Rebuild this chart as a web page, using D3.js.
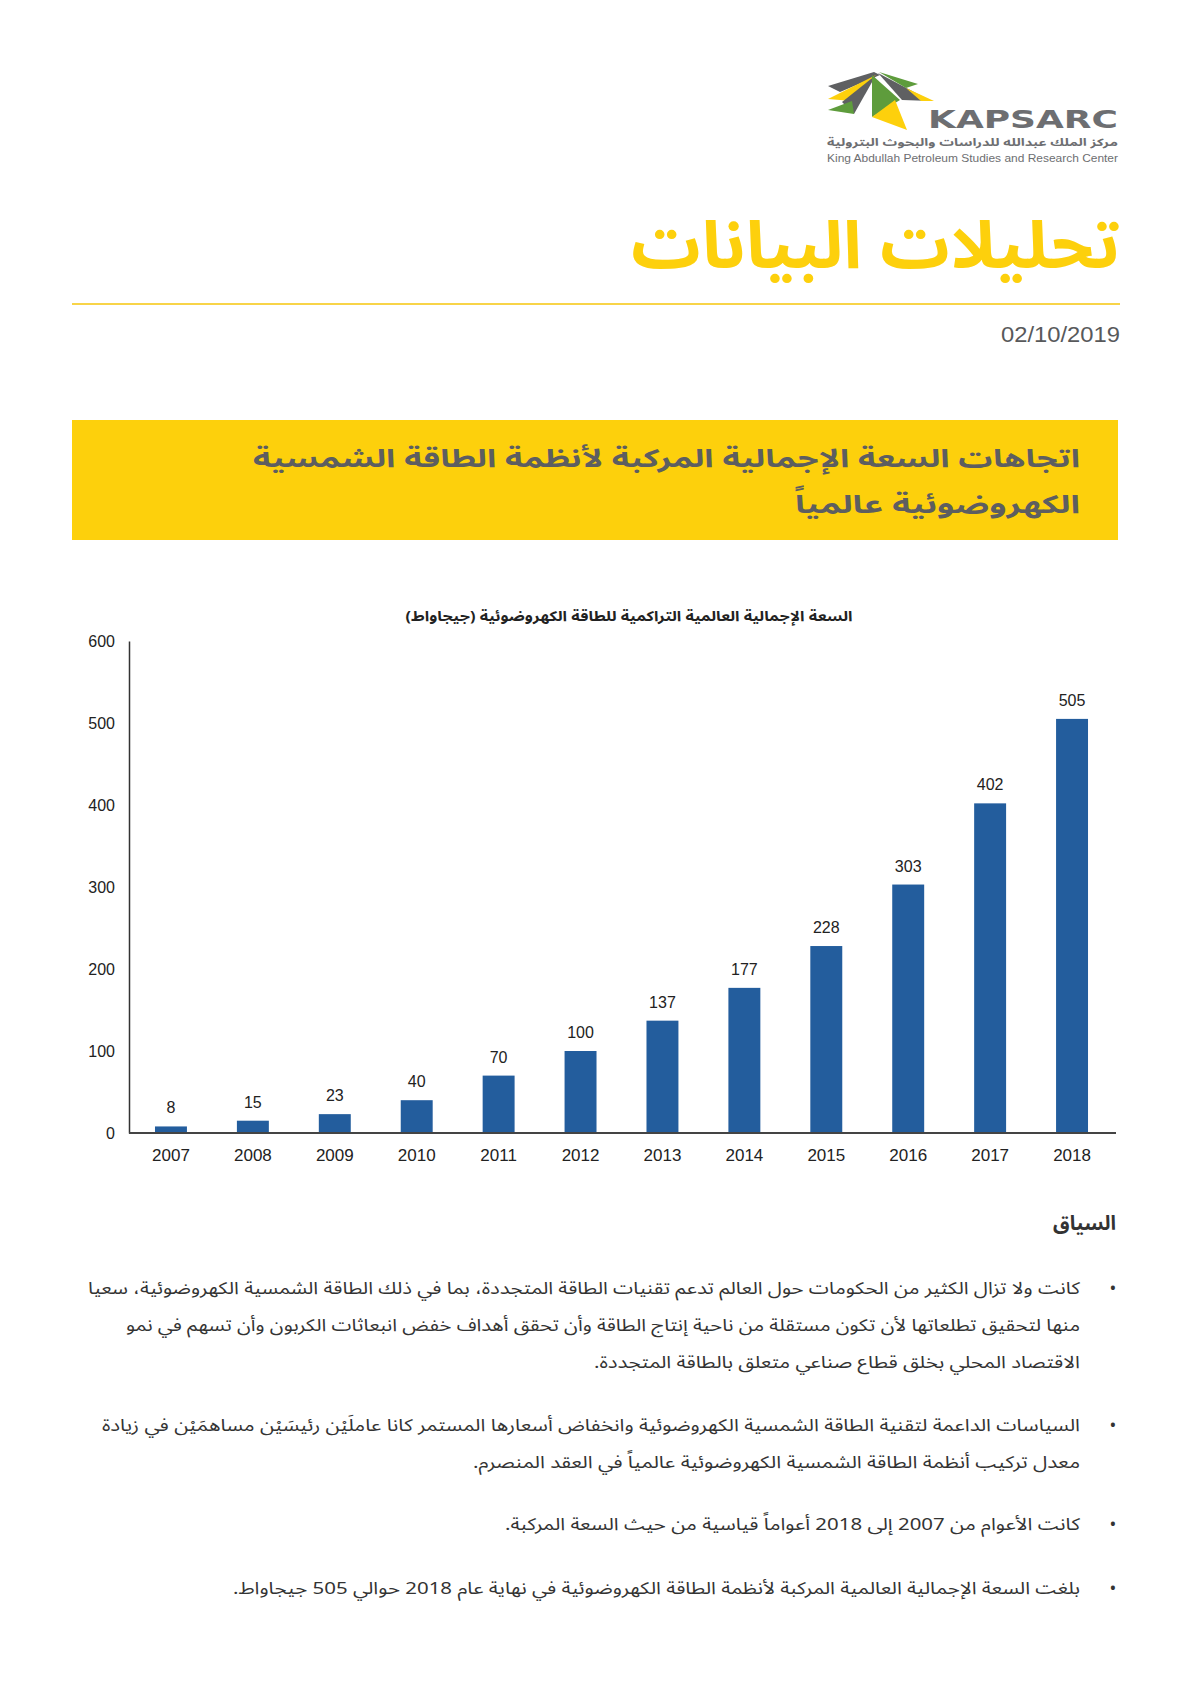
<!DOCTYPE html>
<html>
<head>
<meta charset="utf-8">
<script src="https://cdn.jsdelivr.net/npm/d3@7"></script>
<style>
  body { margin: 0; background: #fff; }
  svg { display: block; }
</style>
</head>
<body>
<div id="chart"></div>
<script>
// data
const years = ["2007", "2008", "2009", "2010", "2011", "2012", "2013", "2014", "2015", "2016", "2017", "2018"]
const capacity = [8, 15, 23, 40, 70, 100, 137, 177, 228, 303, 402, 505]
const yTicks = [0, 100, 200, 300, 400, 500, 600]

const pageTitle = "تحليلات البيانات"
const pageDate = "02/10/2019"
const boxTitle = ["اتجاهات السعة الإجمالية المركبة لأنظمة الطاقة الشمسية", "الكهروضوئية عالمياً"]
const chartTitle = "السعة الإجمالية العالمية التراكمية للطاقة الكهروضوئية (جيجاواط)"
const contextHead = "السياق"
const bullets = [
      ["كانت ولا تزال الكثير من الحكومات حول العالم تدعم تقنيات الطاقة المتجددة، بما في ذلك الطاقة الشمسية الكهروضوئية، سعيا",
       "منها لتحقيق تطلعاتها لأن تكون مستقلة من ناحية إنتاج الطاقة وأن تحقق أهداف خفض انبعاثات الكربون وأن تسهم في نمو",
       "الاقتصاد المحلي بخلق قطاع صناعي متعلق بالطاقة المتجددة."],
      ["السياسات الداعمة لتقنية الطاقة الشمسية الكهروضوئية وانخفاض أسعارها المستمر كانا عاملَيْن رئيسَيْن مساهمَيْن في زيادة",
       "معدل تركيب أنظمة الطاقة الشمسية الكهروضوئية عالمياً في العقد المنصرم."],
      ["كانت الأعوام من 2007 إلى 2018 أعواماً قياسية من حيث السعة المركبة."],
      ["بلغت السعة الإجمالية العالمية المركبة لأنظمة الطاقة الكهروضوئية في نهاية عام 2018 حوالي 505 جيجاواط."]
]

const width = 1191
const height = 1684
const arabicFont = "'Noto Sans Arabic', 'DejaVu Sans', sans-serif"
const latinFont = "'Liberation Sans', Arial, sans-serif"
const yellow = "#fdd00c"
const textGray = "#5d5e60"

const svg = d3.select("#chart").append("svg")
      .attr("width", width)
      .attr("height", height)
      .attr("viewBox", [0, 0, width, height])

// logo
const logo = svg.append("g")
const shapes = [
      {c: "#5f6062", p: [[828, 86], [874, 72], [880, 75], [840, 92]]},
      {c: yellow, p: [[828, 99], [876, 75], [852, 101]]},
      {c: "#5f6062", p: [[842, 102], [876, 75], [854, 114]]},
      {c: "#5e9c3c", p: [[828, 110], [852, 101], [854, 114]]},
      {c: "#5e9c3c", p: [[872, 75], [900, 100], [872, 117]]},
      {c: yellow, p: [[872, 117], [895, 100], [907, 130]]},
      {c: "#5f6062", p: [[878, 73], [931, 101], [902, 100]]},
      {c: "#5e9c3c", p: [[879, 72], [918, 84], [906, 88]]},
      {c: yellow, p: [[906, 88], [934, 101], [921, 101]]}
]
logo.selectAll("polygon")
      .data(shapes)
      .join("polygon")
      .attr("points", d => d.p.join(" "))
      .attr("fill", d => d.c)
logo.append("text")
      .attr("x", 928).attr("y", 128)
      .attr("font-family", "'DejaVu Sans', sans-serif")
      .attr("font-size", 25)
      .attr("font-weight", "bold")
      .attr("fill", "#6d6e71")
      .attr("textLength", 190)
      .attr("lengthAdjust", "spacingAndGlyphs")
      .text("KAPSARC")
logo.append("text")
      .attr("x", 1118).attr("y", 146)
      .attr("direction", "rtl").attr("text-anchor", "start")
      .attr("font-family", arabicFont)
      .attr("font-size", 10.5)
      .attr("font-weight", "bold")
      .attr("fill", "#6d6e71")
      .attr("textLength", 291)
      .attr("lengthAdjust", "spacingAndGlyphs")
      .text("مركز الملك عبدالله للدراسات والبحوث البترولية")
logo.append("text")
      .attr("x", 827).attr("y", 162)
      .attr("font-family", latinFont)
      .attr("font-size", 10.5)
      .attr("fill", "#6d6e71")
      .attr("textLength", 291)
      .attr("lengthAdjust", "spacingAndGlyphs")
      .text("King Abdullah Petroleum Studies and Research Center")

// header
svg.append("text")
      .attr("x", 1120).attr("y", 268)
      .attr("direction", "rtl").attr("text-anchor", "start")
      .attr("font-family", arabicFont)
      .attr("font-size", 66)
      .attr("font-weight", "bold")
      .attr("fill", yellow)
      .attr("textLength", 489)
      .attr("lengthAdjust", "spacingAndGlyphs")
      .text(pageTitle)
svg.append("line")
      .attr("x1", 72).attr("x2", 1120)
      .attr("y1", 304).attr("y2", 304)
      .attr("stroke", "#f8d448")
      .attr("stroke-width", 2)
svg.append("text")
      .attr("x", 1120).attr("y", 342)
      .attr("text-anchor", "end")
      .attr("font-family", latinFont)
      .attr("font-size", 22)
      .attr("fill", "#58595b")
      .attr("textLength", 119)
      .attr("lengthAdjust", "spacingAndGlyphs")
      .text(pageDate)

// yellow title box
svg.append("rect")
      .attr("x", 72).attr("y", 420)
      .attr("width", 1046).attr("height", 120)
      .attr("fill", yellow)
svg.append("g")
      .selectAll("text")
      .data(boxTitle)
      .join("text")
      .attr("x", 1080)
      .attr("y", (d, i) => 467 + i * 46)
      .attr("direction", "rtl").attr("text-anchor", "start")
      .attr("font-family", arabicFont)
      .attr("font-size", 25)
      .attr("font-weight", "bold")
      .attr("fill", textGray)
      .attr("textLength", (d, i) => i === 0 ? 827 : 285)
      .attr("lengthAdjust", "spacingAndGlyphs")
      .text(d => d)

// chart
const marginLeft = 129, marginRight = 1116, yTop = 641, yBottom = 1133

const xScale = d3.scaleBand()
      .domain(years)
      .range([130, 1113])
      .paddingInner(0.61)
      .paddingOuter(0.305)
const yScale = d3.scaleLinear()
      .domain([0, 600])
      .range([yBottom, yTop])

svg.append("text")
      .attr("x", 629).attr("y", 621)
      .attr("text-anchor", "middle")
      .attr("direction", "rtl")
      .attr("font-family", arabicFont)
      .attr("font-size", 14)
      .attr("font-weight", "bold")
      .attr("fill", "#222")
      .attr("textLength", 447)
      .attr("lengthAdjust", "spacingAndGlyphs")
      .text(chartTitle)

// bars
svg.append("g")
      .attr("fill", "#235d9d")
      .selectAll("rect")
      .data(capacity)
      .join("rect")
      .attr("x", (d, i) => xScale(years[i]))
      .attr("y", d => yScale(d))
      .attr("width", xScale.bandwidth())
      .attr("height", d => yScale(0) - yScale(d))

// value labels
svg.append("g")
      .attr("font-family", latinFont)
      .attr("font-size", 16)
      .attr("fill", "#222")
      .attr("text-anchor", "middle")
      .selectAll("text")
      .data(capacity)
      .join("text")
      .attr("x", (d, i) => xScale(years[i]) + xScale.bandwidth() / 2)
      .attr("y", d => yScale(d) - 13)
      .text(d => d)

// axis y
svg.append("g")
      .attr("transform", `translate(${marginLeft},0)`)
      .call(d3.axisLeft(yScale).tickValues(yTicks).tickSize(0).tickPadding(14))
      .call(g => g.select(".domain").attr("stroke", "#333").attr("stroke-width", 1.5))
      .call(g => g.selectAll(".tick text")
            .attr("font-family", latinFont)
            .attr("font-size", 16)
            .attr("fill", "#222"))

// axis x
svg.append("g")
      .attr("transform", `translate(0,${yBottom})`)
      .call(d3.axisBottom(xScale).tickSize(0).tickPadding(16))
      .call(g => g.select(".domain")
            .attr("d", `M${marginLeft},0H${marginRight}`)
            .attr("stroke", "#444")
            .attr("stroke-width", 2.2))
      .call(g => g.selectAll(".tick text")
            .attr("font-family", latinFont)
            .attr("font-size", 17)
            .attr("fill", "#222"))

// context text
svg.append("text")
      .attr("x", 1116).attr("y", 1230)
      .attr("direction", "rtl").attr("text-anchor", "start")
      .attr("font-family", arabicFont)
      .attr("font-size", 20)
      .attr("font-weight", "bold")
      .attr("fill", "#333")
      .text(contextHead)

const paraTop = [1288, 1425, 1524, 1588]
const lineWidths = [[992, 954, 486], [978, 607], [575], [847]]
const lineGap = 37

const paras = svg.append("g")
      .attr("font-family", arabicFont)
      .attr("fill", "#333")
bullets.forEach((lines, p) => {
      paras.append("text")
            .attr("x", 1113).attr("y", paraTop[p] + 6)
            .attr("text-anchor", "middle")
            .attr("font-size", 18)
            .text("•")
      paras.selectAll(null)
            .data(lines)
            .join("text")
            .attr("x", 1080)
            .attr("y", (d, i) => paraTop[p] + 6 + i * lineGap)
            .attr("direction", "rtl").attr("text-anchor", "start")
            .attr("font-size", 17)
            .attr("textLength", (d, i) => lineWidths[p][i])
            .attr("lengthAdjust", "spacingAndGlyphs")
            .text(d => d)
})
</script>
</body>
</html>
